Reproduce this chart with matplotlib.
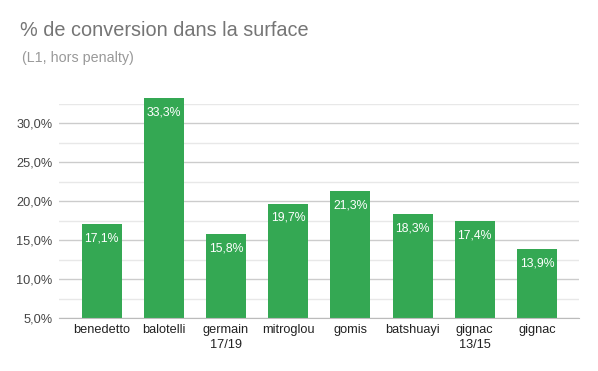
import matplotlib
matplotlib.use("Agg")
import matplotlib.pyplot as plt
from matplotlib.ticker import MultipleLocator, FuncFormatter

plt.rcParams['font.family'] = ['Liberation Sans', 'DejaVu Sans']

# donnees
joueurs = ["benedetto", "balotelli", "germain\n17/19", "mitroglou", "gomis",
           "batshuayi", "gignac\n13/15", "gignac"]
conversion = [17.1, 33.3, 15.8, 19.7, 21.3, 18.3, 17.4, 13.9]
base = 5.0

fig = plt.figure(figsize=(5.98, 3.71), dpi=100)
ax = fig.add_axes([0.0992, 0.1429, 0.8695, 0.5768])

x = range(len(joueurs))
bars = ax.bar(x, [v - base for v in conversion], bottom=base, width=0.643,
              color="#34a853", zorder=3, clip_on=False)

# etiquettes dans les barres
for b, v in zip(bars, conversion):
    ax.annotate(("%.1f%%" % v).replace(".", ","),
                xy=(b.get_x() + b.get_width() / 2, v), xytext=(0, -6),
                textcoords="offset points", ha="center", va="top",
                color="white", fontsize=8.8, zorder=4, annotation_clip=False)

ax.set_xlim(-0.68, len(joueurs) - 1 + 0.68)
ax.set_ylim(base, 32.5)
ax.yaxis.set_major_locator(MultipleLocator(5))
ax.yaxis.set_minor_locator(MultipleLocator(2.5))
ax.yaxis.set_major_formatter(FuncFormatter(lambda v, p: ("%.1f%%" % v).replace(".", ",")))
ax.grid(axis="y", which="major", color="#cccccc", linewidth=1, zorder=0)
ax.grid(axis="y", which="minor", color="#e8e8e8", linewidth=1, zorder=0)

ax.set_xticks(list(x))
ax.set_xticklabels(joueurs, fontsize=9.2, color="#222222", linespacing=1.35)
ax.tick_params(axis="y", which="both", length=0, labelsize=9.2, labelcolor="#444444", pad=5)
ax.tick_params(axis="x", length=0, pad=4)

for s in ["top", "right", "left"]:
    ax.spines[s].set_visible(False)
ax.spines["bottom"].set_color("#bbbbbb")
ax.spines["bottom"].set_zorder(5)

fig.text(20 / 598, 1 - 31 / 371, "% de conversion dans la surface",
         fontsize=14.3, color="#757575", va="center", ha="left")
fig.text(22 / 598, 1 - 58 / 371, "(L1, hors penalty)",
         fontsize=10.3, color="#999999", va="center", ha="left")

fig.savefig("out.png", dpi=100)
